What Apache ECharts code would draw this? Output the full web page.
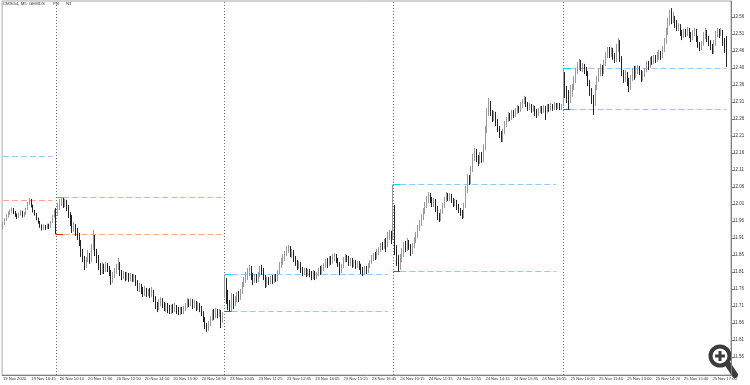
<!DOCTYPE html>
<html><head><meta charset="utf-8">
<script src="https://cdn.jsdelivr.net/npm/echarts@6/dist/echarts.min.js"></script>
<style>html,body{margin:0;padding:0;background:#fff}#c{width:750px;height:385px}</style>
</head><body><div id="c"></div>
<script>
const chartTitle = 'CMSG4, M5: GEMDS';
const headerTags = ['PN', 'N1'];
const xTickLabels = ['19 Nov 2020','19 Nov 16:45','20 Nov 10:10','20 Nov 11:30','20 Nov 12:50','20 Nov 14:10','20 Nov 15:30','20 Nov 16:50','23 Nov 10:05','23 Nov 11:25','23 Nov 12:45','23 Nov 14:05','23 Nov 15:25','23 Nov 16:45','24 Nov 10:15','24 Nov 11:35','24 Nov 12:55','24 Nov 14:15','24 Nov 15:35','24 Nov 16:55','25 Nov 10:20','25 Nov 11:40','25 Nov 13:00','25 Nov 14:20','25 Nov 15:40','25 Nov 17:00'];
const yTickValues = [11.56,11.61,11.66,11.71,11.76,11.81,11.86,11.91,11.96,12.01,12.06,12.11,12.16,12.21,12.26,12.31,12.36,12.41,12.46,12.51,12.56];
const yTickLabels = ['11.56','11.61','11.66','11.71','11.76','11.81','11.86','11.91','11.96','12.01','12.06','12.11','12.16','12.21','12.26','12.31','12.36','12.40','12.46','12.51','12.56'];

// [open, close, low, high]
const d19 = [
[11.940,11.951,11.934,11.958],[11.951,11.963,11.948,11.968],[11.963,11.975,11.960,11.980],[11.975,11.984,11.970,11.988],
[11.984,11.989,11.978,11.994],[11.989,11.995,11.984,12.000],[11.995,11.984,11.980,11.998],[11.984,11.978,11.972,11.989],
[11.978,11.972,11.966,11.982],[11.972,11.981,11.968,11.985],[11.981,11.986,11.976,11.992],[11.986,11.975,11.970,11.990],
[11.975,11.981,11.972,11.986],[11.981,11.995,11.978,11.999],[11.995,12.013,11.992,12.016],[12.013,12.022,12.008,12.028],
[12.022,12.004,12.000,12.025],[12.004,11.989,11.985,12.008],[11.989,11.981,11.976,11.993],[11.981,11.966,11.962,11.984],
[11.966,11.957,11.952,11.970],[11.957,11.945,11.940,11.960],[11.945,11.939,11.932,11.950],[11.939,11.945,11.934,11.950],
[11.945,11.939,11.934,11.948],[11.939,11.948,11.936,11.952],[11.948,11.942,11.936,11.952],[11.942,11.957,11.940,11.960],
[11.957,11.975,11.954,11.978],[11.975,11.989,11.970,11.993]
];
const d20 = [
[11.989,11.984,11.921,11.998],[11.984,12.001,11.975,12.013],[12.001,12.013,11.992,12.025],[12.013,12.022,12.004,12.029],
[12.022,12.007,11.998,12.028],[12.007,12.016,12.001,12.025],[12.016,11.998,11.989,12.022],[11.998,11.981,11.969,12.007],
[11.981,11.957,11.945,11.986],[11.957,11.934,11.925,11.978],[11.934,11.945,11.928,11.957],[11.945,11.928,11.916,11.951],
[11.928,11.916,11.904,11.939],[11.916,11.895,11.886,11.925],[11.895,11.869,11.854,11.904],[11.869,11.851,11.839,11.878],
[11.851,11.831,11.816,11.857],[11.831,11.845,11.822,11.854],[11.845,11.857,11.839,11.875],[11.857,11.845,11.834,11.866],
[11.845,11.880,11.839,11.892],[11.880,11.910,11.875,11.934],[11.910,11.869,11.857,11.919],[11.869,11.851,11.836,11.878],
[11.851,11.828,11.816,11.860],[11.828,11.816,11.801,11.836],[11.816,11.828,11.804,11.839],[11.828,11.816,11.804,11.834],
[11.816,11.831,11.810,11.839],[11.831,11.822,11.810,11.836],[11.822,11.810,11.798,11.828],[11.810,11.786,11.772,11.816],
[11.786,11.798,11.778,11.810],[11.798,11.810,11.792,11.822],[11.810,11.822,11.804,11.834],[11.822,11.834,11.816,11.851],
[11.834,11.810,11.798,11.839],[11.810,11.798,11.786,11.816],[11.798,11.804,11.789,11.813],[11.804,11.792,11.783,11.810],
[11.792,11.801,11.786,11.810],[11.801,11.792,11.781,11.807],[11.792,11.798,11.783,11.807],[11.798,11.789,11.781,11.804],
[11.789,11.795,11.781,11.804],[11.795,11.778,11.769,11.801],[11.778,11.763,11.754,11.786],[11.763,11.769,11.751,11.778],
[11.769,11.757,11.745,11.775],[11.757,11.748,11.736,11.766],[11.748,11.757,11.739,11.769],[11.757,11.745,11.736,11.763],
[11.745,11.754,11.739,11.760],[11.754,11.745,11.733,11.763],[11.745,11.751,11.736,11.766],[11.751,11.733,11.722,11.757],
[11.733,11.713,11.701,11.739],[11.713,11.704,11.692,11.722],[11.704,11.716,11.698,11.730],[11.716,11.728,11.710,11.736],
[11.728,11.716,11.704,11.733],[11.716,11.704,11.695,11.722],[11.704,11.713,11.692,11.719],[11.713,11.701,11.689,11.719],
[11.701,11.695,11.686,11.713],[11.695,11.707,11.686,11.713],[11.707,11.698,11.689,11.716],[11.698,11.707,11.692,11.719],
[11.707,11.698,11.686,11.713],[11.698,11.692,11.683,11.707],[11.692,11.701,11.683,11.707],[11.701,11.695,11.686,11.707],
[11.695,11.701,11.686,11.710],[11.701,11.710,11.695,11.719],[11.710,11.725,11.704,11.733],[11.725,11.716,11.707,11.730],
[11.716,11.728,11.710,11.733],[11.728,11.713,11.701,11.730],[11.713,11.719,11.704,11.728],[11.719,11.707,11.695,11.725],
[11.707,11.716,11.698,11.722],[11.716,11.704,11.692,11.719],[11.704,11.689,11.680,11.710],[11.689,11.672,11.663,11.695],
[11.672,11.651,11.642,11.678],[11.651,11.645,11.634,11.660],[11.645,11.657,11.637,11.666],[11.657,11.672,11.651,11.680],
[11.672,11.689,11.666,11.698],[11.689,11.680,11.669,11.701],[11.680,11.695,11.674,11.704],[11.695,11.686,11.674,11.701],
[11.686,11.692,11.678,11.701],[11.692,11.669,11.645,11.698],[11.669,11.680,11.660,11.692]
];
const d23 = [
[11.739,11.786,11.733,11.803],[11.786,11.728,11.716,11.792],[11.728,11.710,11.698,11.757],[11.710,11.701,11.694,11.728],
[11.701,11.739,11.695,11.748],[11.739,11.716,11.701,11.745],[11.716,11.731,11.710,11.739],[11.731,11.742,11.722,11.751],
[11.742,11.733,11.722,11.754],[11.733,11.751,11.728,11.760],[11.751,11.775,11.745,11.781],[11.775,11.786,11.766,11.795],
[11.786,11.798,11.778,11.810],[11.798,11.810,11.786,11.822],[11.810,11.822,11.798,11.831],[11.822,11.798,11.786,11.828],
[11.798,11.783,11.772,11.807],[11.783,11.795,11.778,11.804],[11.795,11.786,11.778,11.804],[11.786,11.801,11.781,11.810],
[11.801,11.822,11.795,11.828],[11.822,11.816,11.801,11.831],[11.816,11.795,11.786,11.822],[11.795,11.772,11.763,11.801],
[11.772,11.786,11.766,11.795],[11.786,11.781,11.772,11.795],[11.781,11.792,11.775,11.798],[11.792,11.783,11.775,11.801],
[11.783,11.795,11.778,11.804],[11.795,11.789,11.781,11.804],[11.789,11.810,11.783,11.816],[11.810,11.831,11.804,11.839],
[11.831,11.839,11.822,11.851],[11.839,11.851,11.831,11.863],[11.851,11.863,11.842,11.872],[11.863,11.875,11.857,11.886],
[11.875,11.880,11.866,11.889],[11.880,11.863,11.854,11.886],[11.863,11.869,11.851,11.878],[11.869,11.851,11.839,11.875],
[11.851,11.839,11.828,11.857],[11.839,11.828,11.816,11.845],[11.828,11.834,11.819,11.842],[11.834,11.816,11.807,11.839],
[11.816,11.810,11.798,11.825],[11.810,11.816,11.801,11.822],[11.816,11.804,11.795,11.822],[11.804,11.813,11.798,11.819],
[11.813,11.804,11.795,11.819],[11.804,11.798,11.786,11.813],[11.798,11.807,11.789,11.816],[11.807,11.795,11.786,11.813],
[11.795,11.804,11.789,11.810],[11.804,11.816,11.798,11.822],[11.816,11.810,11.801,11.828],[11.810,11.822,11.804,11.831],
[11.822,11.828,11.813,11.836],[11.828,11.839,11.822,11.848],[11.839,11.834,11.822,11.851],[11.834,11.851,11.828,11.857],
[11.851,11.839,11.831,11.857],[11.839,11.851,11.834,11.863],[11.851,11.857,11.842,11.866],[11.857,11.845,11.836,11.863],
[11.845,11.834,11.825,11.851],[11.834,11.816,11.801,11.839],[11.816,11.828,11.807,11.834],[11.828,11.845,11.822,11.854],
[11.845,11.857,11.839,11.863],[11.857,11.851,11.839,11.860],[11.851,11.839,11.828,11.857],[11.839,11.845,11.828,11.851],
[11.845,11.834,11.822,11.851],[11.834,11.839,11.825,11.845],[11.839,11.831,11.819,11.845],[11.831,11.836,11.822,11.842],
[11.836,11.828,11.816,11.842],[11.828,11.816,11.804,11.834],[11.816,11.810,11.798,11.825],[11.810,11.822,11.801,11.828],
[11.822,11.813,11.804,11.828],[11.813,11.828,11.807,11.836],[11.828,11.839,11.822,11.845],[11.839,11.851,11.834,11.860],
[11.851,11.857,11.842,11.866],[11.857,11.854,11.845,11.869],[11.854,11.869,11.848,11.878],[11.869,11.875,11.860,11.883],
[11.875,11.886,11.869,11.895],[11.886,11.883,11.875,11.898],[11.883,11.898,11.878,11.907],[11.898,11.889,11.869,11.910],
[11.889,11.916,11.883,11.928],[11.916,11.922,11.904,11.934],[11.922,11.910,11.892,11.931]
];
const d24 = [
[11.916,11.934,11.904,12.067],[11.934,11.875,11.860,12.007],[11.875,11.839,11.828,11.889],[11.839,11.828,11.812,11.860],
[11.828,11.851,11.816,11.863],[11.851,11.863,11.839,11.880],[11.863,11.889,11.854,11.898],[11.889,11.880,11.869,11.901],
[11.880,11.898,11.872,11.910],[11.898,11.883,11.875,11.904],[11.883,11.869,11.857,11.892],[11.869,11.886,11.863,11.895],
[11.886,11.904,11.880,11.913],[11.904,11.916,11.895,11.928],[11.916,11.939,11.910,11.948],[11.939,11.951,11.931,11.963],
[11.951,11.969,11.945,11.981],[11.969,11.986,11.963,11.998],[11.986,12.004,11.981,12.016],[12.004,12.022,11.998,12.034],
[12.022,12.034,12.013,12.045],[12.034,12.022,12.013,12.042],[12.022,12.010,12.001,12.031],[12.010,12.019,12.001,12.028],
[12.019,11.998,11.986,12.025],[11.998,11.975,11.963,12.004],[11.975,11.966,11.957,11.984],[11.966,11.986,11.960,11.995],
[11.986,12.004,11.981,12.013],[12.004,12.022,11.998,12.031],[12.022,12.037,12.016,12.045],[12.037,12.028,12.019,12.042],
[12.028,12.034,12.019,12.042],[12.034,12.022,12.013,12.040],[12.022,12.010,12.001,12.028],[12.010,12.016,12.004,12.025],
[12.016,12.004,11.992,12.022],[12.004,11.992,11.984,12.010],[11.992,11.984,11.975,11.998],[11.984,11.975,11.966,11.992],
[11.975,12.004,11.969,12.013],[12.004,12.051,11.998,12.063],[12.051,12.086,12.042,12.098],[12.086,12.075,12.066,12.095],
[12.075,12.110,12.069,12.122],[12.110,12.145,12.104,12.157],[12.145,12.163,12.136,12.175],[12.163,12.145,12.133,12.172],
[12.145,12.134,12.122,12.154],[12.134,12.154,12.128,12.163],[12.154,12.139,12.131,12.163],[12.139,12.175,12.134,12.186],
[12.175,12.228,12.169,12.239],[12.228,12.281,12.219,12.292],[12.281,12.304,12.269,12.322],[12.304,12.281,12.269,12.313],
[12.281,12.263,12.251,12.286],[12.263,12.275,12.254,12.284],[12.275,12.251,12.239,12.281],[12.251,12.234,12.222,12.260],
[12.234,12.216,12.204,12.239],[12.216,12.204,12.192,12.225],[12.204,12.222,12.192,12.231],[12.222,12.245,12.216,12.254],
[12.245,12.257,12.236,12.266],[12.257,12.269,12.251,12.281],[12.269,12.263,12.254,12.278],[12.263,12.278,12.257,12.286],
[12.278,12.272,12.263,12.286],[12.272,12.284,12.266,12.292],[12.284,12.292,12.275,12.301],[12.292,12.286,12.278,12.298],
[12.286,12.301,12.281,12.310],[12.301,12.310,12.292,12.319],[12.310,12.319,12.304,12.328],[12.319,12.304,12.295,12.325],
[12.304,12.292,12.284,12.310],[12.292,12.298,12.286,12.307],[12.298,12.286,12.278,12.304],[12.286,12.292,12.281,12.301],
[12.292,12.281,12.269,12.298],[12.281,12.275,12.263,12.289],[12.275,12.286,12.269,12.292],[12.286,12.292,12.278,12.298],
[12.292,12.284,12.275,12.298],[12.284,12.292,12.278,12.301],[12.292,12.284,12.257,12.298],[12.284,12.295,12.278,12.304],
[12.295,12.289,12.281,12.304],[12.289,12.298,12.284,12.307],[12.298,12.292,12.284,12.304],[12.292,12.301,12.286,12.310],
[12.301,12.295,12.286,12.307],[12.295,12.301,12.289,12.307],[12.301,12.292,12.286,12.307],[12.292,12.298,12.286,12.304]
];
const d25 = [
[12.304,12.386,12.298,12.408],[12.386,12.339,12.322,12.398],[12.339,12.328,12.307,12.357],[12.328,12.316,12.288,12.345],
[12.316,12.339,12.307,12.360],[12.339,12.351,12.325,12.363],[12.351,12.375,12.345,12.386],[12.375,12.398,12.366,12.410],
[12.398,12.416,12.392,12.428],[12.416,12.428,12.404,12.437],[12.428,12.410,12.401,12.434],[12.410,12.416,12.398,12.425],
[12.416,12.404,12.392,12.422],[12.404,12.395,12.386,12.413],[12.395,12.369,12.357,12.401],[12.369,12.345,12.328,12.375],
[12.345,12.322,12.304,12.351],[12.322,12.304,12.272,12.331],[12.304,12.351,12.298,12.360],[12.351,12.375,12.345,12.386],
[12.375,12.398,12.369,12.410],[12.398,12.410,12.386,12.422],[12.410,12.398,12.386,12.419],[12.398,12.422,12.392,12.434],
[12.422,12.445,12.416,12.457],[12.445,12.463,12.439,12.472],[12.463,12.451,12.439,12.472],[12.451,12.463,12.442,12.472],
[12.463,12.445,12.434,12.469],[12.445,12.434,12.425,12.454],[12.434,12.469,12.428,12.481],[12.469,12.486,12.457,12.498],
[12.486,12.439,12.428,12.492],[12.439,12.398,12.386,12.445],[12.398,12.381,12.366,12.404],[12.381,12.392,12.369,12.404],
[12.392,12.369,12.357,12.398],[12.369,12.351,12.339,12.381],[12.351,12.381,12.345,12.389],[12.381,12.398,12.372,12.410],
[12.398,12.386,12.375,12.416],[12.386,12.404,12.381,12.416],[12.404,12.410,12.392,12.419],[12.410,12.398,12.389,12.416],
[12.398,12.381,12.369,12.404],[12.381,12.392,12.372,12.401],[12.392,12.404,12.384,12.410],[12.404,12.422,12.398,12.431],
[12.422,12.416,12.404,12.431],[12.416,12.434,12.410,12.442],[12.434,12.428,12.419,12.445],[12.428,12.439,12.422,12.448],
[12.439,12.434,12.425,12.448],[12.434,12.445,12.428,12.457],[12.445,12.451,12.434,12.463],[12.451,12.445,12.434,12.460],
[12.445,12.463,12.439,12.475],[12.463,12.486,12.457,12.498],[12.486,12.516,12.481,12.528],[12.516,12.545,12.507,12.557],
[12.545,12.563,12.534,12.581],[12.563,12.551,12.539,12.586],[12.551,12.557,12.542,12.575],[12.557,12.539,12.528,12.563],
[12.539,12.528,12.519,12.551],[12.528,12.534,12.519,12.542],[12.534,12.516,12.504,12.539],[12.516,12.504,12.492,12.522],
[12.504,12.516,12.498,12.525],[12.516,12.510,12.501,12.525],[12.510,12.522,12.504,12.531],[12.522,12.510,12.498,12.528],
[12.510,12.498,12.486,12.516],[12.498,12.513,12.492,12.522],[12.513,12.522,12.504,12.528],[12.522,12.498,12.486,12.525],
[12.498,12.481,12.469,12.504],[12.481,12.469,12.460,12.486],[12.469,12.481,12.463,12.489],[12.481,12.504,12.475,12.516],
[12.504,12.516,12.495,12.528],[12.516,12.498,12.486,12.522],[12.498,12.486,12.475,12.504],[12.486,12.475,12.463,12.492],
[12.475,12.457,12.451,12.481],[12.457,12.481,12.451,12.492],[12.481,12.510,12.475,12.519],[12.510,12.516,12.501,12.528],
[12.516,12.510,12.498,12.525],[12.510,12.519,12.504,12.528],[12.519,12.486,12.475,12.522],[12.486,12.469,12.454,12.498],
[12.469,12.422,12.413,12.504]
];

// day separators (bar index) and opening-range levels per day
const daySeparators = [30, 125, 220, 316];
const levelStart = [0, 30, 125, 220, 316];
const levelSolidEnd = [null, 34, 129, 224, 320];
const levelEnd = [28, 123, 217, 312, 408];
const levelHigh = [12.1496, 12.0291, 11.8026, 12.0673, 12.4085];
const levelLow = [12.0202, 11.9202, 11.6938, 11.8114, 12.2879];

const bars = d19.concat(d20, d23, d24, d25);
const slotCount = 411;
const categories = Array.from({length: slotCount}, (_, i) => String(i));

const levelSeries = [];
function seg(a, b, v, color, type, z) {
  levelSeries.push({
    type: 'line', data: [[a, v], [b, v]], symbol: 'none', silent: true, z: z,
    lineStyle: {color: color, type: type, width: 1}, itemStyle: {color: color}
  });
}
for (let k = 0; k < levelStart.length; k++) {
  const dashFrom = levelSolidEnd[k] === null ? levelStart[k] : levelSolidEnd[k];
  seg(dashFrom, levelEnd[k], levelHigh[k], '#93c9ff', [6, 3], 3);
  seg(dashFrom, levelEnd[k], levelLow[k], '#ffa898', [6, 3], 3);
  if (levelSolidEnd[k] !== null) {
    seg(levelStart[k], levelSolidEnd[k], levelHigh[k], '#00dcff', 'solid', 4);
    seg(levelStart[k], levelSolidEnd[k], levelLow[k], '#ff1e1e', 'solid', 4);
  }
}

const chart = echarts.init(document.getElementById('c'), null, {renderer: 'canvas'});
const FONT = 'Liberation Sans';
chart.setOption({
  animation: false,
  grid: {left: 1, right: 19, top: 1, bottom: 10, show: true, borderColor: '#a8a8a8', borderWidth: 1, backgroundColor: '#fff'},
  xAxis: {
    type: 'category', data: categories, boundaryGap: true,
    axisLine: {lineStyle: {color: '#808080', width: 1}},
    axisTick: {alignWithLabel: true, interval: i => i % 16 === 0, length: 3, lineStyle: {color: '#808080'}},
    axisLabel: {interval: i => i % 16 === 0, formatter: (v, i) => xTickLabels[i / 16] || '', fontSize: 4.1, fontFamily: FONT, align: 'left', margin: 1.5, color: '#333'},
    splitLine: {show: false}
  },
  yAxis: {
    type: 'value', position: 'right', min: 11.507, max: 12.607,
    axisLine: {show: true, lineStyle: {color: '#808080', width: 1}},
    axisTick: {show: true, length: 3, customValues: yTickValues, lineStyle: {color: '#808080'}},
    axisLabel: {customValues: yTickValues, fontSize: 4.5, fontFamily: FONT, margin: 2, color: '#333',
      formatter: v => { const k = yTickValues.findIndex(t => Math.abs(t - v) < 1e-6); return k >= 0 ? yTickLabels[k] : ''; }},
    splitLine: {show: false}
  },
  series: [{
    type: 'candlestick', data: bars, barWidth: 1, z: 5,
    itemStyle: {color: '#dedede', color0: '#222222', borderColor: '#999999', borderColor0: '#222222', borderWidth: 1},
    markLine: {silent: true, symbol: ['none', 'none'], label: {show: false}, animation: false,
      lineStyle: {color: '#707070', type: [1, 2], width: 1},
      data: daySeparators.map(i => ({xAxis: i}))}
  }].concat(levelSeries),
  graphic: [
    {type: 'text', left: 3, top: 2, style: {text: chartTitle, fontSize: 4.3, fontFamily: FONT, fill: '#333'}},
    {type: 'text', left: 53, top: 2, style: {text: headerTags[0], fontSize: 4.3, fontFamily: FONT, fill: '#333'}},
    {type: 'text', left: 66, top: 2, style: {text: headerTags[1], fontSize: 4.3, fontFamily: FONT, fill: '#333'}},
    {type: 'group', z: 100, children: [
      {type: 'line', shape: {x1: 727, y1: 363, x2: 735, y2: 375}, style: {stroke: '#3c3c3c', lineWidth: 6, lineCap: 'round'}},
      {type: 'circle', shape: {cx: 720, cy: 356, r: 9.5}, style: {fill: '#fff', stroke: '#3c3c3c', lineWidth: 4}},
      {type: 'rect', shape: {x: 715, y: 354.5, width: 10, height: 3}, style: {fill: '#3c3c3c'}},
      {type: 'rect', shape: {x: 718.5, y: 351, width: 3, height: 10}, style: {fill: '#3c3c3c'}}
    ]}
  ]
});
</script></body></html>
